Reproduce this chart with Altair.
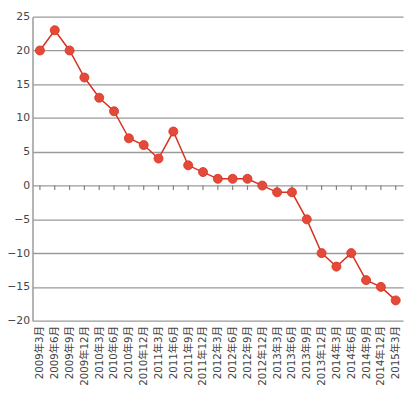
import altair as alt
import pandas as pd

periods = ["2009年3月", "2009年6月", "2009年9月", "2009年12月",
           "2010年3月", "2010年6月", "2010年9月", "2010年12月",
           "2011年3月", "2011年6月", "2011年9月", "2011年12月",
           "2012年3月", "2012年6月", "2012年9月", "2012年12月",
           "2013年3月", "2013年6月", "2013年9月", "2013年12月",
           "2014年3月", "2014年6月", "2014年9月", "2014年12月",
           "2015年3月"]
values = [20, 23, 20, 16, 13, 11, 7, 6, 4, 8, 3, 2, 1, 1, 1, 0,
          -1, -1, -5, -10, -12, -10, -14, -15, -17]
y_ticks = [-20, -15, -10, -5, 0, 5, 10, 15, 20, 25]

df = pd.DataFrame({"period": periods, "value": values})

x_enc = alt.X("period:N", sort=periods,
              scale=alt.Scale(type="point", range=[0, 378]),
              axis=alt.Axis(title=None, labelAngle=-90, labelFontSize=10.5,
                            labelColor="#444",
                            labelFont="DejaVu Sans, Noto Sans CJK JP",
                            ticks=False, domain=False, grid=False,
                            labelPadding=5))
y_scale = alt.Scale(domain=[-20, 25], nice=False)
y_axis = alt.Axis(title=None, values=y_ticks, ticks=False, grid=True,
                  labelFontSize=11, labelColor="#444", labelOverlap=False,
                  labelFont="DejaVu Sans",
                  labelPadding=3, domainColor="#999",
                  domainWidth=1.5, gridColor="#9a9a9a",
                  gridWidth=1.3, gridOpacity=1)

base = alt.Chart(df)

ticks0 = base.mark_rule(color="#808080", strokeWidth=1.2).encode(
    x=x_enc,
    y=alt.Y(datum=0, scale=y_scale, axis=y_axis),
    y2=alt.datum(-0.65),
)

line = base.mark_line(color="#d9301f", strokeWidth=1.5).encode(
    x=x_enc,
    y=alt.Y("value:Q", scale=y_scale, axis=y_axis),
)

points = base.mark_point(filled=True, size=85, color="#e34a3a",
                         opacity=1, stroke="#d9301f", strokeWidth=0.8).encode(
    x=x_enc,
    y=alt.Y("value:Q", scale=y_scale, axis=y_axis),
)

chart = alt.layer(ticks0, line, points).properties(
    width=381, height=310,
    autosize=alt.AutoSizeParams(type="none"),
    padding={"left": 25, "top": 5, "right": 4, "bottom": 75},
).configure_view(stroke=None)

chart.save("out.html", embed_options={"renderer": "svg", "actions": False})
